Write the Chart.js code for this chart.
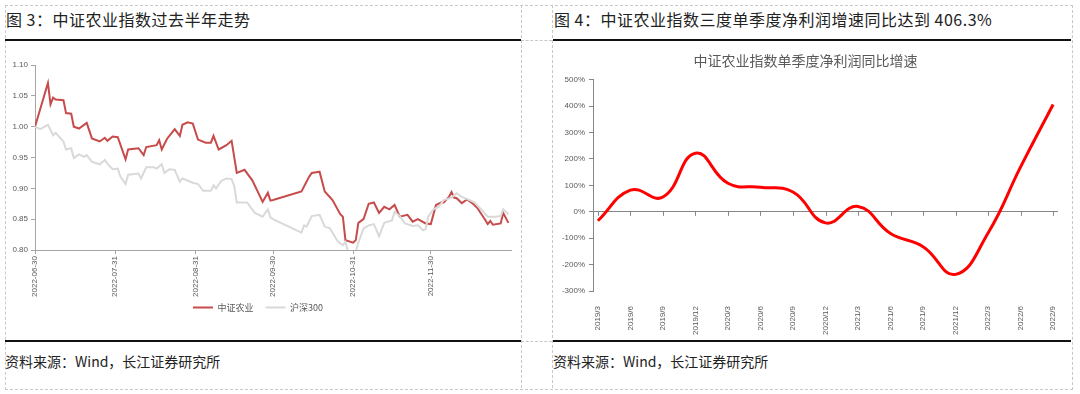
<!DOCTYPE html>
<html>
<head>
<meta charset="utf-8">
<script src="https://cdn.jsdelivr.net/npm/chart.js@4.4.0/dist/chart.umd.min.js"></script>
<style>
  body { margin: 0; width: 1080px; height: 394px; background: #fff; position: relative; overflow: hidden;
         font-family: "Noto Sans CJK SC", "Liberation Sans", sans-serif; }
  .dash { position: absolute; border: 0 dashed #c8c8c8; }
  .rule { position: absolute; height: 2px; background: #111; }
  .head { position: absolute; top: 7px; font-size: 16px; letter-spacing: 0.5px; color: #222; white-space: nowrap; }
  .src { position: absolute; top: 351px; font-size: 14px; color: #222; white-space: nowrap; }
  .cv { position: absolute; top: 42px; height: 296px; }
</style>
</head>
<body>
<!-- cadre pointillé du tableau -->
<div class="dash" style="left:5px;top:5px;width:1066px;height:383px;border-width:1px;"></div>
<div class="dash" style="left:521px;top:5px;height:383px;border-left-width:1px;"></div>
<div class="dash" style="left:552px;top:5px;height:383px;border-left-width:1px;"></div>
<div class="dash" style="left:521px;top:40px;width:31px;border-top-width:1px;"></div>
<div class="dash" style="left:521px;top:341px;width:31px;border-top-width:1px;"></div>

<div class="head" style="left:6px;">图 3：中证农业指数过去半年走势</div>
<div class="head" style="left:554px;">图 4：中证农业指数三度单季度净利润增速同比达到 406.3%</div>
<div class="rule" style="left:5px;top:39px;width:516px;"></div>
<div class="rule" style="left:553px;top:39px;width:518px;"></div>
<div class="rule" style="left:5px;top:340px;width:516px;"></div>
<div class="rule" style="left:553px;top:340px;width:518px;"></div>
<div class="src" style="left:5px;">资料来源：Wind，长江证券研究所</div>
<div class="src" style="left:553px;">资料来源：Wind，长江证券研究所</div>

<div class="cv" style="left:5px;width:516px;"><canvas id="trendChart"></canvas></div>
<div class="cv" style="left:553px;width:518px;"><canvas id="profitChart"></canvas></div>

<script>
// ---- Figure 3 : indice agricole vs CSI300 (jours depuis le 2022-06-30) ----
const startDate = '2022-06-30';
const endDate = '2022-12-31';
const monthTicks = ['2022-06-30', '2022-07-31', '2022-08-31', '2022-09-30', '2022-10-31', '2022-11-30'];

const agriDays = [0, 5, 6, 7, 8, 11, 12, 14, 15, 17, 20, 22, 25, 27, 28, 30, 32, 35, 36, 40, 42, 43, 47, 48, 49, 51,
  54, 56, 57, 59, 61, 63, 66, 68, 69, 71, 74, 76, 78, 81, 84, 88, 90, 91, 92, 103, 106, 107, 110, 112, 115, 118,
  119, 120, 123, 124, 125, 127, 129, 131, 133, 135, 137, 139, 141, 144, 146, 148, 151, 153, 155, 157, 158, 160,
  161, 162, 163, 165, 167, 169, 171, 174, 175, 176, 177, 180, 181, 183];
const agriValues = [1.000, 1.071, 1.036, 1.047, 1.044, 1.043, 1.022, 1.021, 1.000, 0.997, 1.006, 0.981, 0.976,
  0.982, 0.977, 0.984, 0.983, 0.947, 0.963, 0.965, 0.954, 0.967, 0.970, 0.978, 0.963, 0.980, 0.996, 0.985, 1.003,
  1.007, 1.005, 0.979, 0.974, 0.974, 0.985, 0.963, 0.970, 0.977, 0.925, 0.930, 0.913, 0.878, 0.893, 0.880, 0.881,
  0.895, 0.919, 0.925, 0.927, 0.895, 0.881, 0.858, 0.854, 0.816, 0.812, 0.816, 0.844, 0.850, 0.875, 0.877, 0.860,
  0.870, 0.866, 0.873, 0.854, 0.857, 0.846, 0.850, 0.843, 0.842, 0.873, 0.877, 0.877, 0.886, 0.894, 0.885, 0.884,
  0.876, 0.882, 0.876, 0.868, 0.849, 0.842, 0.847, 0.841, 0.843, 0.860, 0.844];

const hs300Days = [0, 2, 5, 7, 8, 11, 12, 14, 15, 17, 19, 20, 22, 25, 27, 28, 30, 32, 33, 35, 36, 40, 41, 43, 46,
  47, 49, 50, 52, 54, 56, 57, 61, 63, 65, 68, 69, 70, 72, 74, 76, 77, 78, 82, 85, 88, 90, 91, 92, 103, 104, 105,
  107, 110, 112, 114, 117, 119, 120, 121, 124, 125, 127, 129, 131, 133, 135, 138, 139, 141, 143, 146, 148, 150,
  151, 152, 154, 156, 158, 161, 163, 165, 168, 170, 172, 175, 178, 180, 181, 183];
const hs300Values = [1.000, 0.996, 1.003, 0.986, 0.990, 0.976, 0.963, 0.965, 0.949, 0.955, 0.951, 0.954, 0.943,
  0.939, 0.946, 0.940, 0.931, 0.932, 0.919, 0.907, 0.922, 0.924, 0.916, 0.934, 0.934, 0.932, 0.939, 0.925, 0.931,
  0.930, 0.911, 0.916, 0.909, 0.907, 0.896, 0.896, 0.905, 0.900, 0.912, 0.916, 0.915, 0.904, 0.877, 0.877, 0.860,
  0.854, 0.866, 0.853, 0.850, 0.828, 0.840, 0.838, 0.855, 0.857, 0.838, 0.835, 0.814, 0.808, 0.813, 0.797, 0.797,
  0.812, 0.835, 0.840, 0.842, 0.822, 0.844, 0.848, 0.862, 0.855, 0.843, 0.839, 0.840, 0.832, 0.834, 0.854, 0.866,
  0.870, 0.881, 0.885, 0.892, 0.886, 0.881, 0.877, 0.868, 0.854, 0.854, 0.855, 0.866, 0.858];

// ---- Figure 4 : croissance trimestrielle du bénéfice net (%) ----
const quarters = ['2019/3', '2019/6', '2019/9', '2019/12', '2020/3', '2020/6', '2020/9', '2020/12',
  '2021/3', '2021/6', '2021/9', '2021/12', '2022/3', '2022/6', '2022/9'];
const profitGrowth = [-34, 82, 56, 222, 108, 93, 75, -42, 20, -82, -132, -237, -80, 170, 406.3];

const dayOf = s => (Date.parse(s) - Date.parse(startDate)) / 86400000;
const toPoints = (xs, ys) => xs.map((x, i) => ({ x: x, y: ys[i] }));

const tickFont = { family: 'Liberation Sans', size: 8 };
const tickColor = '#595959';

// les dates verticales débordent sous l'axe : on agrandit la zone de découpe des étiquettes
const longLabels = {
  id: 'longLabels',
  afterLayout(chart) { chart.scales.x.bottom += 12; }
};

new Chart(document.getElementById('trendChart').getContext('2d'), {
  type: 'line',
  data: {
    datasets: [
      { label: '中证农业', data: toPoints(agriDays, agriValues), borderColor: '#C84B4B', backgroundColor: '#C84B4B',
        borderWidth: 2, pointRadius: 0, tension: 0 },
      { label: '沪深300', data: toPoints(hs300Days, hs300Values), borderColor: '#D9D9D9', backgroundColor: '#D9D9D9',
        borderWidth: 2, pointRadius: 0, tension: 0 }
    ].reverse()
  },
  plugins: [longLabels],
  options: {
    responsive: true,
    maintainAspectRatio: false,
    animation: false,
    layout: { padding: { top: 23, right: 10, bottom: 16, left: 0 } },
    plugins: {
      tooltip: { enabled: false },
      legend: {
        position: 'bottom',
        reverse: true,
        labels: { usePointStyle: true, pointStyle: 'line', pointStyleWidth: 20, padding: 12,
                  font: { family: 'Noto Sans CJK SC', size: 9 }, color: tickColor }
      }
    },
    scales: {
      x: {
        type: 'linear', min: 0, max: dayOf(endDate),
        afterBuildTicks: s => { s.ticks = monthTicks.map(d => ({ value: dayOf(d) })); },
        afterFit: s => { s.height = 41; },
        ticks: { callback: (v, i) => monthTicks[i], font: tickFont, color: tickColor,
                 autoSkip: false, minRotation: 90, maxRotation: 90, padding: 2 },
        grid: { drawOnChartArea: false, tickLength: 4, color: '#A6A6A6' },
        border: { color: '#A6A6A6' }
      },
      y: {
        min: 0.8, max: 1.1,
        afterFit: s => { s.width = 30; },
        ticks: { stepSize: 0.05, callback: v => v.toFixed(2), font: tickFont, color: tickColor, padding: 3 },
        grid: { drawOnChartArea: false, tickLength: 4, color: '#A6A6A6' },
        border: { color: '#A6A6A6' }
      }
    }
  }
});

// petites graduations sur la ligne du zéro
const zeroTicks = {
  id: 'zeroTicks',
  afterDatasetsDraw(chart) {
    const { ctx, scales: { x, y } } = chart;
    const y0 = y.getPixelForValue(0);
    ctx.save();
    ctx.strokeStyle = '#868686';
    ctx.lineWidth = 1;
    x.ticks.forEach(t => {
      const px = Math.round(x.getPixelForValue(t.value)) + 0.5;
      ctx.beginPath(); ctx.moveTo(px, y0); ctx.lineTo(px, y0 + 4); ctx.stroke();
    });
    ctx.restore();
  }
};

new Chart(document.getElementById('profitChart').getContext('2d'), {
  type: 'line',
  data: {
    datasets: [
      { label: '中证农业指数单季度净利润同比增速', data: profitGrowth.map((v, i) => ({ x: i, y: v })),
        borderColor: '#FF0000', borderWidth: 3, pointRadius: 0, tension: 0.45, cubicInterpolationMode: 'default' }
    ]
  },
  plugins: [zeroTicks],
  options: {
    responsive: true,
    maintainAspectRatio: false,
    animation: false,
    layout: { padding: { top: 0, right: 13, bottom: 2, left: 0 } },
    plugins: {
      tooltip: { enabled: false },
      legend: { display: false },
      title: { display: true, text: '中证农业指数单季度净利润同比增速', color: '#595959',
               font: { family: 'Noto Sans CJK SC', size: 14, weight: 'normal' }, padding: { top: 10, bottom: 11 } }
    },
    scales: {
      x: {
        type: 'linear', min: -0.15, max: quarters.length - 0.85,
        afterBuildTicks: s => { s.ticks = quarters.map((q, i) => ({ value: i })); },
        afterFit: s => { s.height = 45; },
        ticks: { callback: (v, i) => quarters[i], font: tickFont, color: tickColor,
                 autoSkip: false, minRotation: 90, maxRotation: 90, padding: 7 },
        grid: { display: false },
        border: { display: false }
      },
      y: {
        min: -300, max: 500,
        afterFit: s => { s.width = 40; },
        ticks: { stepSize: 100, callback: v => v + '%', font: tickFont, color: tickColor, padding: 4 },
        grid: { color: c => (c.tick && c.tick.value === 0 ? '#868686' : 'rgba(0,0,0,0)'),
                tickColor: '#868686', tickLength: 4 },
        border: { color: '#868686' }
      }
    }
  }
});
</script>
</body>
</html>
